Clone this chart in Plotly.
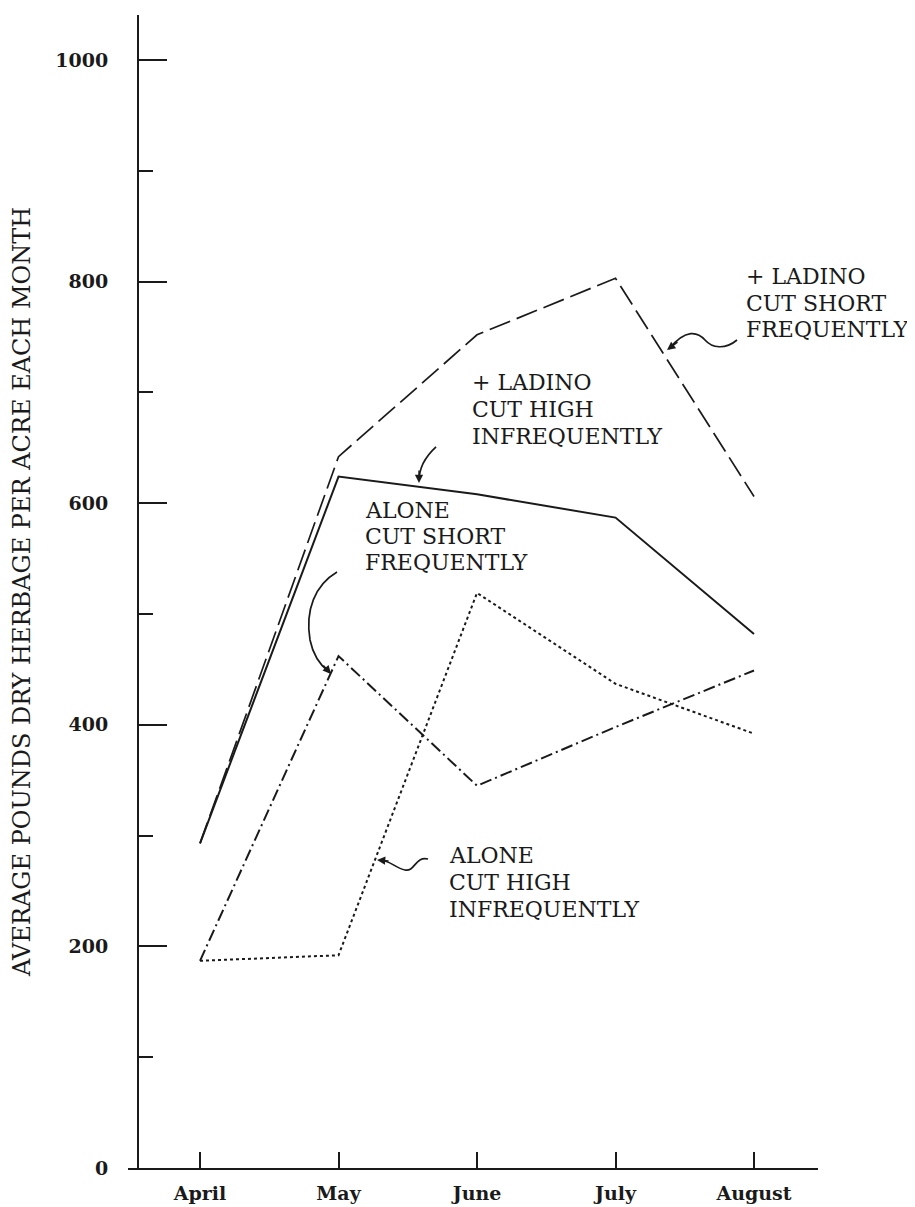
import plotly.graph_objects as go

months = ["April", "May", "June", "July", "August"]
ladino_short = [293, 642, 752, 803, 606]
ladino_high = [293, 624, 608, 587, 482]
alone_short = [187, 462, 345, 398, 449]
alone_high = [187, 192, 519, 437, 392]
y_tick_vals = [0, 200, 400, 600, 800, 1000]
y_minor_vals = [100, 300, 500, 700, 900]

FONT = "DejaVu Serif"
INK = "#1a1a1a"

# pixel -> data helper for decorations (labels and curly pointers)
X0, XS = 200.0, 138.5
Y0, YS = 1168.0, 1.108


def P(px, py):
    return (px - X0) / XS, (Y0 - py) / YS


xs = list(range(len(months)))

fig = go.Figure()
fig.add_trace(go.Scatter(x=xs, y=ladino_short, mode="lines",
                         line=dict(color=INK, width=1.7, dash="22px,7px")))
fig.add_trace(go.Scatter(x=xs, y=ladino_high, mode="lines",
                         line=dict(color=INK, width=2)))
fig.add_trace(go.Scatter(x=xs, y=alone_short, mode="lines",
                         line=dict(color=INK, width=2, dash="12px,4px,2px,4px")))
fig.add_trace(go.Scatter(x=xs, y=alone_high, mode="lines",
                         line=dict(color=INK, width=2, dash="3px,3px")))

labels = [
    (["+ LADINO", "CUT SHORT", "FREQUENTLY"], 744, [277, 303.5, 330]),
    (["+ LADINO", "CUT HIGH", "INFREQUENTLY"], 470, [383, 410, 437]),
    (["ALONE", "CUT SHORT", "FREQUENTLY"], 363, [511, 537, 563]),
    (["ALONE", "CUT HIGH", "INFREQUENTLY"], 447, [855, 882, 909]),
]
for lines, px, pys in labels:
    for txt, py in zip(lines, pys):
        x, y = P(px, py)
        fig.add_annotation(x=x, y=y, text=txt, showarrow=False, xanchor="left",
                           yanchor="middle", align="left",
                           font=dict(family=FONT, size=22, color=INK))


def path(pts):
    conv = [P(a, b) for a, b in pts]
    s = "M %f,%f" % conv[0]
    rest = conv[1:]
    for i in range(0, len(rest), 3):
        s += " C %f,%f %f,%f %f,%f" % (rest[i] + rest[i + 1] + rest[i + 2])
    return s


curves = [
    [(737, 340), (725, 350), (712, 348), (705, 340), (698, 332), (686, 328), (669, 349)],
    [(436, 447), (424, 458), (419, 468), (419, 481)],
    [(337, 572), (315, 585), (305, 610), (310, 640), (313, 655), (320, 665), (329, 672)],
    [(428, 859), (415, 856), (415, 872), (405, 870), (395, 868), (390, 860), (379, 860)],
]
for c in curves:
    fig.add_shape(type="path", path=path(c), xref="x", yref="y",
                  line=dict(color=INK, width=1.7))

heads = [((667, 350), 12, -9), ((419, 483), 0, -14), ((331, 674), -9, -10), ((377, 860), 13, 1)]
for (px, py), ax, ay in heads:
    x, y = P(px, py)
    fig.add_annotation(x=x, y=y, ax=ax, ay=ay, text="", showarrow=True,
                       arrowhead=2, arrowsize=1.1, arrowwidth=1.5, arrowcolor=INK)

fig.update_layout(
    width=915, height=1207,
    margin=dict(l=120, r=105, t=7, b=47),
    paper_bgcolor="white", plot_bgcolor="white",
    showlegend=False,
    xaxis=dict(range=[-0.52, 4.462], showline=True, linecolor=INK, linewidth=2,
               ticks="inside", ticklen=16, tickwidth=2, tickcolor=INK,
               tickvals=xs, ticktext=months, showgrid=False, zeroline=False,
               ticklabelstandoff=7,
               tickfont=dict(family=FONT, size=19, color=INK, weight="bold")),
    yaxis=dict(range=[0, 1040.6], anchor="free", position=10 / 690,
               showline=True, linecolor=INK, linewidth=2,
               ticks="inside", ticklen=28, tickwidth=2, tickcolor=INK,
               tickvals=y_tick_vals, ticktext=[str(v) for v in y_tick_vals],
               minor=dict(tickvals=y_minor_vals, ticks="inside", ticklen=14,
                          tickwidth=2, tickcolor=INK),
               showgrid=False, zeroline=False, ticklabelstandoff=25,
               tickfont=dict(family=FONT, size=19, color=INK, weight="bold"),
               title=dict(text="AVERAGE POUNDS DRY HERBAGE PER ACRE EACH MONTH",
                          font=dict(family=FONT, size=24, color=INK), standoff=23)),
)

fig.write_html("out.html")
